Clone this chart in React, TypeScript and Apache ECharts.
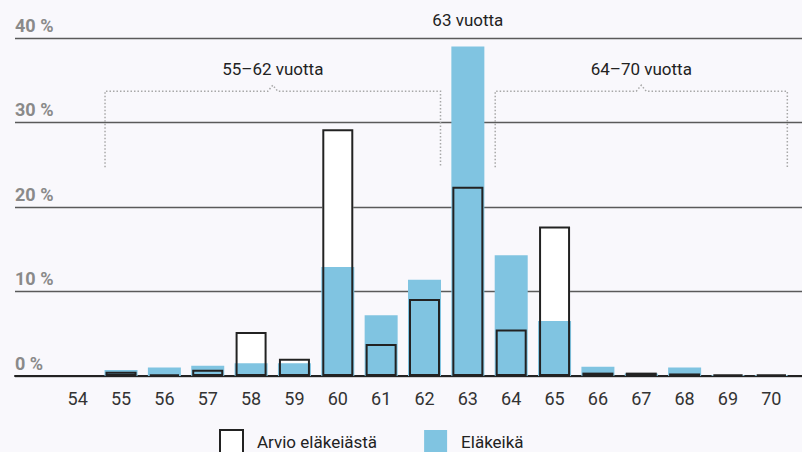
import React, { useEffect, useRef } from "react";
import * as echarts from "echarts";

const categories = ["54", "55", "56", "57", "58", "59", "60", "61", "62", "63", "64", "65", "66", "67", "68", "69", "70"];
const arvioValues = [0, 0.5, 0.2, 0.75, 5.2, 2.05, 29.2, 3.8, 9.1, 22.4, 5.5, 17.7, 0.4, 0.4, 0.3, 0.2, 0.2];
const elakeikaValues = [0, 0.7, 1.0, 1.2, 1.5, 1.5, 12.9, 7.2, 11.4, 39.0, 14.3, 6.5, 1.1, 0.3, 1.0, 0.1, 0.1];
const yTicks = [0, 10, 20, 30, 40];
const groupFrom = ["55", "63", "64"];
const groupTo = ["62", "63", "70"];
const groupLabels = ["55–62 vuotta", "63 vuotta", "64–70 vuotta"];
const seriesNames = ["Arvio eläkeiästä", "Eläkeikä"];

const FONT = "Roboto, sans-serif";
const BLUE = "#80c4e1";
const DARK = "#222222";

export default function App() {
  const ref = useRef<HTMLDivElement>(null);
  useEffect(() => {
    document.body.style.margin = "0";
    if (!ref.current) return;
    const chart = echarts.init(ref.current, undefined, { renderer: "svg" });
    const groupData = groupFrom.map((f, i) => [categories.indexOf(f), categories.indexOf(groupTo[i]), i]);
    const option: any = {
      animation: false,
      backgroundColor: "#f9f8fc",
      textStyle: { fontFamily: FONT },
      grid: [
        { left: 15, right: 0, top: 38, bottom: 76 },
        { left: 56, right: 9, top: 38, bottom: 76 },
      ],
      xAxis: [
        {
          type: "value", gridIndex: 0, min: 0, max: 1, show: true,
          axisLine: { show: true, onZero: false, lineStyle: { color: DARK, width: 2 } },
          axisTick: { show: false }, axisLabel: { show: false }, splitLine: { show: false },
        },
        {
          type: "category", gridIndex: 1, data: categories,
          axisLine: { show: false }, axisTick: { show: false },
          axisLabel: { color: "#333", fontSize: 18, fontFamily: FONT, margin: 13 },
        },
        {
          type: "category", gridIndex: 1, data: categories, show: false,
        },
      ],
      yAxis: [
        {
          type: "value", gridIndex: 0, min: yTicks[0], max: yTicks[yTicks.length - 1], interval: 10,
          axisLine: { show: false }, axisTick: { show: false },
          splitLine: { show: true, lineStyle: { color: "#5a5a5a", width: 1.3 } },
          axisLabel: {
            inside: true, margin: 0, verticalAlign: "bottom", padding: [0, 0, 4, 0],
            formatter: "{value} %", color: "#8a8a8a", fontWeight: "bold", fontSize: 18, fontFamily: FONT,
          },
        },
        { type: "value", gridIndex: 1, min: 0, max: 40, interval: 10, show: false, splitLine: { show: false } },
      ],
      legend: {
        left: 219, top: 429, padding: 0, itemWidth: 23, itemHeight: 23, itemGap: 47, icon: "rect",
        textStyle: { fontSize: 17, color: DARK, fontFamily: FONT, padding: [0, 0, 0, 9] },
        data: [
          { name: seriesNames[0], itemStyle: { color: "#fff", borderColor: DARK, borderWidth: 2 } },
          { name: seriesNames[1] },
        ],
      },
      series: [
        {
          name: seriesNames[0], type: "bar", xAxisIndex: 2, yAxisIndex: 1, data: arvioValues,
          barWidth: 31, barGap: "-100%", itemStyle: { color: "#ffffff" },
        },
        {
          name: seriesNames[1], type: "bar", xAxisIndex: 1, yAxisIndex: 1, data: elakeikaValues,
          barWidth: 33, itemStyle: { color: BLUE },
        },
        {
          name: "outline", type: "bar", xAxisIndex: 2, yAxisIndex: 1, data: arvioValues,
          barWidth: 31, barGap: "-100%",
          itemStyle: { color: "rgba(0,0,0,0)", borderColor: DARK, borderWidth: 2 },
        },
        {
          name: "groups", type: "custom", xAxisIndex: 1, yAxisIndex: 1, data: groupData,
          clip: false, silent: true,
          renderItem: (params: any, api: any) => {
            const i0 = api.value(0);
            const i1 = api.value(1);
            const idx = api.value(2);
            const left = api.coord([i0, 0])[0] - 16;
            const right = api.coord([i1, 0])[0] + 16;
            const cx = (left + right) / 2;
            const label = groupLabels[idx];
            if (i0 === i1) {
              const ty = api.coord([i0, 42.1])[1];
              return {
                type: "text",
                style: { text: label, x: cx, y: ty, align: "center", verticalAlign: "middle", fill: DARK, fontSize: 17, fontFamily: FONT },
              };
            }
            const yLine = api.coord([i0, 33.7])[1];
            const yLeg = api.coord([i0, 24.7])[1];
            const yText = api.coord([i0, 36.3])[1];
            return {
              type: "group",
              children: [
                {
                  type: "polyline",
                  shape: {
                    points: [
                      [left, yLeg], [left, yLine], [cx - 5, yLine], [cx, yLine - 6],
                      [cx + 5, yLine], [right, yLine], [right, yLeg],
                    ],
                  },
                  style: { stroke: "#a8a8a8", lineWidth: 1.5, fill: null, lineDash: [1.5, 2] },
                },
                {
                  type: "text",
                  style: { text: label, x: cx, y: yText, align: "center", verticalAlign: "middle", fill: DARK, fontSize: 17, fontFamily: FONT },
                },
              ],
            };
          },
        },
      ],
    };
    chart.setOption(option);
    return () => chart.dispose();
  }, []);
  return <div ref={ref} style={{ width: 802, height: 452 }} />;
}
